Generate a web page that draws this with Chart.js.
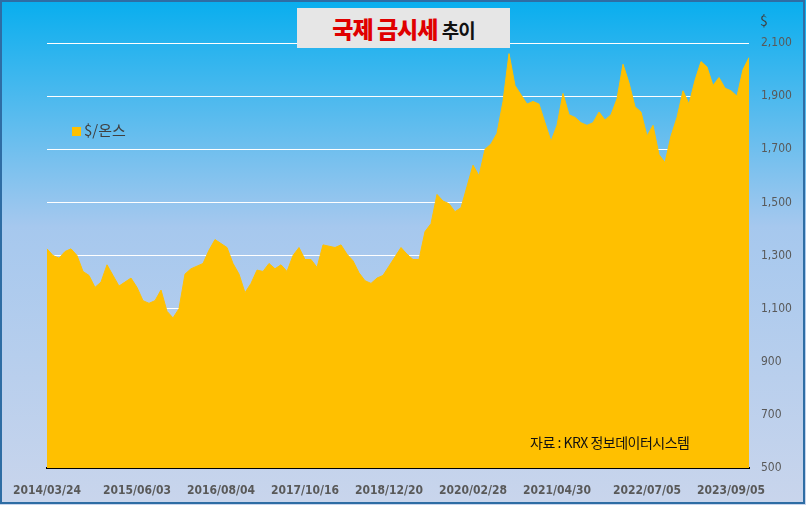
<!DOCTYPE html>
<html><head><meta charset="utf-8">
<script src="https://cdn.jsdelivr.net/npm/chart.js@4/dist/chart.umd.min.js"></script>
<style>
body{margin:0;width:806px;height:505px;overflow:hidden;font-family:"Noto Sans CJK KR","Noto Sans",sans-serif}
#wrap{position:relative;width:806px;height:505px}
canvas{position:absolute;left:0;top:0}
#title{position:absolute;left:297px;top:8px;width:213px;height:40px;background:#e6e6e6;text-align:center;line-height:40px;font-size:23px;font-weight:bold;letter-spacing:-1px}
#title span{font-size:19px;color:#111;font-weight:bold}
#legend{position:absolute;left:72px;top:119px;font-size:15px;color:#404040}
#legend i{display:inline-block;width:9px;height:9px;background:#ffc000;margin-right:3px}
#src{position:absolute;left:530px;top:432px;font-size:14px;color:#111;letter-spacing:-0.5px}
#dollar{position:absolute;left:760px;top:10px;font-size:14px;color:#404040}
</style></head><body>
<div id="wrap">
<canvas id="c" width="806" height="505"></canvas>
<div id="title"><b style="color:#e00000">국제 금시세</b> <span>추이</span></div>
<div id="legend"><i></i>$/온스</div>
<div id="src">자료 : KRX 정보데이터시스템</div>
<div id="dollar">$</div>
</div>
<script>
// monthly, 2014/03 .. 2023/12
const months = [];
for (let y = 2014; y <= 2023; y++) for (let m = 1; m <= 12; m++) {
  if (y === 2014 && m < 3) continue;
  months.push(y + '/' + String(m).padStart(2, '0'));
}
const tickLabels = {
  '2014/03': '2014/03/24', '2015/06': '2015/06/03', '2016/08': '2016/08/04',
  '2017/10': '2017/10/16', '2018/12': '2018/12/20', '2020/02': '2020/02/28',
  '2021/04': '2021/04/30', '2022/07': '2022/07/05', '2023/09': '2023/09/05'
};
const prices = [
  1325, 1300, 1290, 1315, 1325, 1300, 1240, 1225, 1180, 1200,
  1265, 1225, 1185, 1200, 1215, 1180, 1130, 1120, 1130, 1170, 1090, 1065,
  1100, 1230, 1250, 1260, 1270, 1320, 1360, 1345, 1330, 1270, 1230, 1160,
  1195, 1245, 1240, 1270, 1250, 1265, 1240, 1300, 1330, 1285, 1285, 1255,
  1340, 1335, 1330, 1340, 1305, 1280, 1235, 1205, 1195, 1215, 1225, 1260,
  1295, 1330, 1305, 1285, 1285, 1390, 1420, 1530, 1505, 1495, 1465, 1480,
  1560, 1640, 1600, 1700, 1720, 1760, 1880, 2060, 1940, 1905, 1870, 1880,
  1870, 1800, 1730, 1790, 1910, 1830, 1820, 1800, 1790, 1800, 1840, 1810,
  1830, 1890, 2020, 1950, 1860, 1840, 1750, 1790, 1680, 1650, 1750, 1820,
  1920, 1870, 1960, 2030, 2010, 1940, 1970, 1930, 1920, 1900, 2000, 2045
];
const yTicks = [500, 700, 900, 1100, 1300, 1500, 1700, 1900, 2100];

const bg = {
  id: 'bg',
  beforeDraw(chart) {
    const ctx = chart.ctx;
    const g = ctx.createLinearGradient(0, 0, 0, 505);
    g.addColorStop(0, '#08aeee');
    g.addColorStop(0.45, '#a6c8ee');
    g.addColorStop(1, '#c9d5ec');
    ctx.save();
    ctx.fillStyle = g;
    ctx.fillRect(0, 0, 806, 505);
    ctx.strokeStyle = '#2e6da4';
    ctx.lineWidth = 2;
    ctx.strokeRect(1, 1, 803, 502);
    ctx.restore();
  }
};

const axisFont = 'DejaVu Sans Condensed';

new Chart(document.getElementById('c'), {
  type: 'line',
  data: {
    labels: months,
    datasets: [{
      data: prices,
      fill: 'start',
      backgroundColor: '#ffc000',
      borderColor: '#ffc000',
      borderWidth: 1,
      pointRadius: 0,
      tension: 0
    }]
  },
  plugins: [bg],
  options: {
    responsive: false,
    animation: false,
    plugins: { legend: { display: false }, tooltip: { enabled: false } },
    layout: { padding: { left: 47, right: 6, top: 43, bottom: 0 } },
    scales: {
      x: {
        offset: false,
        grid: { display: false },
        border: { color: '#000', width: 2 },
        afterFit: s => { s.height = 37; },
        ticks: {
          autoSkip: false, maxRotation: 0, color: '#595959', padding: 8,
          font: { family: axisFont, size: 12, weight: 'bold' },
          callback: (v, i) => tickLabels[months[i]] || ''
        }
      },
      y: {
        position: 'right', min: 500, max: 2100,
        afterBuildTicks: s => { s.ticks = yTicks.map(v => ({ value: v })); },
        afterFit: s => { s.width = 51; },
        grid: { color: '#ffffff', lineWidth: 1, drawTicks: false },
        border: { display: false },
        ticks: {
          padding: 12, color: '#595959',
          font: { family: axisFont, size: 12 },
          callback: v => v.toLocaleString('en-US')
        }
      }
    }
  }
});
</script>
</body></html>
